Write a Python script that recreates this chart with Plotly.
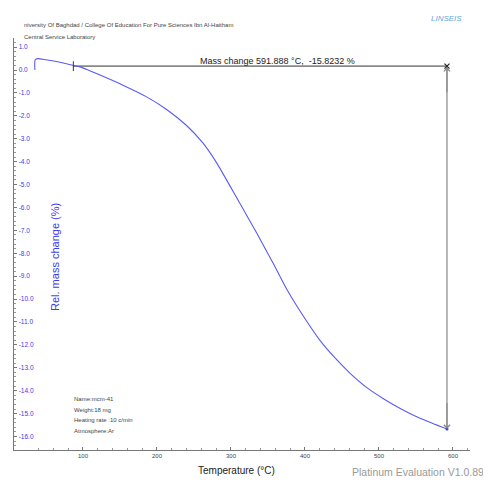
import plotly.graph_objects as go

# ---- data ----
temperature_c = [35.0, 35.5, 39, 50, 69, 87, 96, 109, 123, 154, 186, 213, 240, 262, 280,
                 312, 335, 357, 375, 389, 420, 440, 461, 485, 506, 530, 551, 572, 591.888]
rel_mass_pct = [0.0, 0.45, 0.5, 0.45, 0.34, 0.2, 0.14, -0.03, -0.22, -0.66, -1.17, -1.72,
                -2.42, -3.18, -4.02, -5.82, -7.13, -8.44, -9.55, -10.30, -11.79,
                -12.55, -13.24, -13.90, -14.35, -14.80, -15.14, -15.42, -15.67]

ref_temp = 87.0
ref_mass = 0.17
end_temp = 591.888
end_mass = -15.67
mass_change_label = "Mass change 591.888 °C,  -15.8232 %"

y_ticks = [1.0, 0.0, -1.0, -2.0, -3.0, -4.0, -5.0, -6.0, -7.0, -8.0, -9.0, -10.0, -11.0,
           -12.0, -13.0, -14.0, -15.0, -16.0]
x_ticks = [100, 200, 300, 400, 500, 600]

header_lines = ["niversity Of Baghdad / College Of Education For Pure Sciences Ibn Al-Haitham",
                "Central Service Laboratory"]
info_lines = ["Name:mcm-41", "Weight:18 mg", "Heating rate :10 c/min", "Atmosphere:Ar"]

FONT = "Liberation Sans"
BLUE = "#3a3aee"

fig = go.Figure()

# reference horizontal line
fig.add_trace(go.Scatter(x=[ref_temp, end_temp], y=[ref_mass, ref_mass], mode="lines",
                         line=dict(color="#8a8a8a", width=1.6), hoverinfo="skip",
                         showlegend=False))
# vertical measuring line
fig.add_trace(go.Scatter(x=[end_temp, end_temp], y=[ref_mass, end_mass], mode="lines",
                         line=dict(color="#9a9a9a", width=1.4), hoverinfo="skip",
                         showlegend=False))
# curve
fig.add_trace(go.Scatter(x=temperature_c, y=rel_mass_pct, mode="lines",
                         line=dict(color="#5a5af5", width=1.1, shape="spline", smoothing=0.7),
                         showlegend=False))
# markers
fig.add_trace(go.Scatter(x=[ref_temp], y=[ref_mass], mode="markers",
                         marker=dict(symbol="line-ns", size=7, line=dict(color="#333", width=1)),
                         showlegend=False))
fig.add_trace(go.Scatter(x=[end_temp], y=[ref_mass], mode="markers",
                         marker=dict(symbol="x-thin", size=5, line=dict(color="#222", width=1.2)),
                         showlegend=False))
fig.add_trace(go.Scatter(x=[end_temp], y=[end_mass], mode="markers",
                         marker=dict(symbol="circle", size=3, color="#3a3aee"),
                         showlegend=False))

annotations = []
# arrowheads
annotations.append(dict(x=end_temp, y=end_mass, ax=end_temp, ay=end_mass + 1.2,
                        xref="x", yref="y", axref="x", ayref="y", showarrow=True,
                        arrowhead=4, arrowsize=1.0, arrowwidth=1.2, arrowcolor="#888", text=""))
annotations.append(dict(x=end_temp, y=ref_mass - 0.05, ax=end_temp, ay=ref_mass - 1.2,
                        xref="x", yref="y", axref="x", ayref="y", showarrow=True,
                        arrowhead=4, arrowsize=1.0, arrowwidth=1.2, arrowcolor="#888", text=""))

annotations.append(dict(text=mass_change_label, x=0.752, y=0.962, xref="paper", yref="paper",
                        showarrow=False, font=dict(family=FONT, size=9, color="#222")))

for i, line in enumerate(header_lines):
    annotations.append(dict(text=line, x=0.018, y=1.044 - i * 0.029, xref="paper", yref="paper",
                            xanchor="left", showarrow=False,
                            font=dict(family=FONT, size=6, color="#444")))

annotations.append(dict(text="<i>LINSEIS</i>", x=0.987, y=1.062, xref="paper", yref="paper",
                        showarrow=False, font=dict(family=FONT, size=8, color="#6aa8dc")))

for i, line in enumerate(info_lines):
    annotations.append(dict(text=line, x=0.128, y=0.112 - i * 0.026, xref="paper", yref="paper",
                            xanchor="left", showarrow=False,
                            font=dict(family=FONT, size=6, color="#444")))

annotations.append(dict(text="Rel. mass change (%)", x=0.072, y=0.468, xref="paper",
                        yref="paper", textangle=-90, showarrow=False,
                        font=dict(family=FONT, size=11, color=BLUE)))
annotations.append(dict(text="Temperature (°C)", x=0.489, y=-0.068, xref="paper",
                        yref="paper", showarrow=False,
                        font=dict(family=FONT, size=10, color="#222")))
annotations.append(dict(text="Platinum Evaluation V1.0.89", x=1.036, y=-0.073, xref="paper",
                        yref="paper", xanchor="right", showarrow=False,
                        font=dict(family=FONT, size=10.5, color="#999")))

# the page body adds an 8px offset, so the figure is 8px smaller and margins compensate
fig.update_layout(
    width=483, height=484,
    margin=dict(l=6, r=21, t=30, b=42, autoexpand=False),
    paper_bgcolor="white", plot_bgcolor="white",
    annotations=annotations,
    xaxis=dict(range=[6.8, 623], tickvals=x_ticks, ticktext=[str(v) for v in x_ticks],
               automargin=False,
               showgrid=False, zeroline=False, showline=True, linecolor="#777", linewidth=1,
               ticks="inside", ticklen=3, tickcolor="#777",
               minor=dict(dtick=20, ticks="inside", ticklen=2, tickcolor="#999"),
               tickfont=dict(family=FONT, size=6, color="#444")),
    yaxis=dict(range=[-16.59, 1.40], tickvals=y_ticks, ticktext=[f"{v:.1f}" for v in y_ticks],
               automargin=False,
               showgrid=False, zeroline=False, showline=True, linecolor="#777", linewidth=1,
               ticks="inside", ticklen=3, tickcolor="#777", ticklabelposition="inside",
               minor=dict(dtick=0.2, ticks="inside", ticklen=2, tickcolor="#999"),
               tickfont=dict(family=FONT, size=6.5, color=BLUE)),
)

fig.write_html("out.html")
